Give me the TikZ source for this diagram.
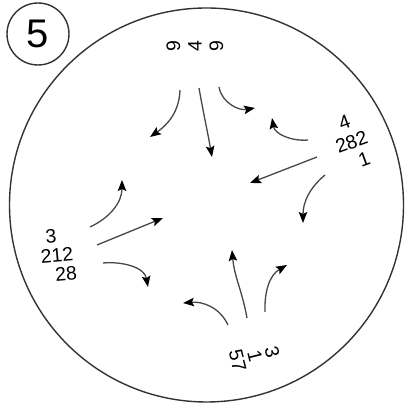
\documentclass[tikz,border=0pt]{standalone}
\usepackage{fontspec}
\setmainfont{Liberation Sans}
\usetikzlibrary{arrows.meta}
\begin{document}
\begin{tikzpicture}[x=1pt,y=1pt,
  flow/.style={draw=black!72, line width=1.3pt, -{Stealth[length=11pt,width=8.5pt,inset=2pt,black]}},
  num/.style={inner sep=0pt, align=center},
  ring/.style={draw=black!80, line width=1.4pt}]
\useasboundingbox (0,0) rectangle (407,406);
\node[ring, circle, minimum size=62pt, fill=white, font=\fontsize{40}{40}\selectfont] (tag) at (38,372) {5};
\node[ring, circle, minimum size=394pt] (big) at (206.5,201) {};

% labels (one stacked node each)
\node[num, rotate=90, font=\fontsize{19.5}{21.5}\selectfont] (top) at (195,359.5) {9\\4\\9};
\node[num, rotate=20, font=\fontsize{19.5}{21}\selectfont] (right) at (351.5,264) {4\\282\\\hspace*{11.6pt}1};
\node[num, rotate=5, font=\fontsize{19.5}{19.5}\selectfont] (left) at (57,151) {3\hspace*{8.6pt}\\212\\\hspace*{14.6pt}28};
\node[num, rotate=-76, font=\fontsize{19.5}{17.8}\selectfont] (bottom) at (255,49.5) {3\\1\\57};

% arrow ends
\coordinate (s1) at (180,316); \coordinate (e1) at (150,269);
\coordinate (s2) at (199,318); \coordinate (e2) at (212,249);
\coordinate (s3) at (219,319); \coordinate (e3) at (255,298);
\coordinate (s4) at (308,266); \coordinate (e4) at (272,288);
\coordinate (s5) at (317,249); \coordinate (e5) at (250,223);
\coordinate (s6) at (325,231); \coordinate (e6) at (303,183);
\coordinate (s7) at (90,179);  \coordinate (e7) at (122,226);
\coordinate (s8) at (97,161);  \coordinate (e8) at (163,188);
\coordinate (s9) at (103,143); \coordinate (e9) at (148,119);
\coordinate (s10) at (228,81); \coordinate (e10) at (183,103);
\coordinate (s11) at (247,88); \coordinate (e11) at (232,156);
\coordinate (s12) at (265,94); \coordinate (e12) at (287,141);

\draw[flow] (s1) to[out=-92,in=35] (e1);
\draw[flow] (s2) to[out=-80,in=100] (e2);
\draw[flow] (s3) to[out=-80,in=190] (e3);
\draw[flow] (s4) to[out=185,in=-80] (e4);
\draw[flow] (s5) -- (e5);
\draw[flow] (s6) to[out=220,in=90] (e6);
\draw[flow] (s7) to[out=25,in=-90] (e7);
\draw[flow] (s8) -- (e8);
\draw[flow] (s9) to[out=5,in=100] (e9);
\draw[flow] (s10) to[out=115,in=5] (e10);
\draw[flow] (s11) to[out=100,in=-85] (e11);
\draw[flow] (s12) to[out=92,in=210] (e12);
\end{tikzpicture}
\end{document}
